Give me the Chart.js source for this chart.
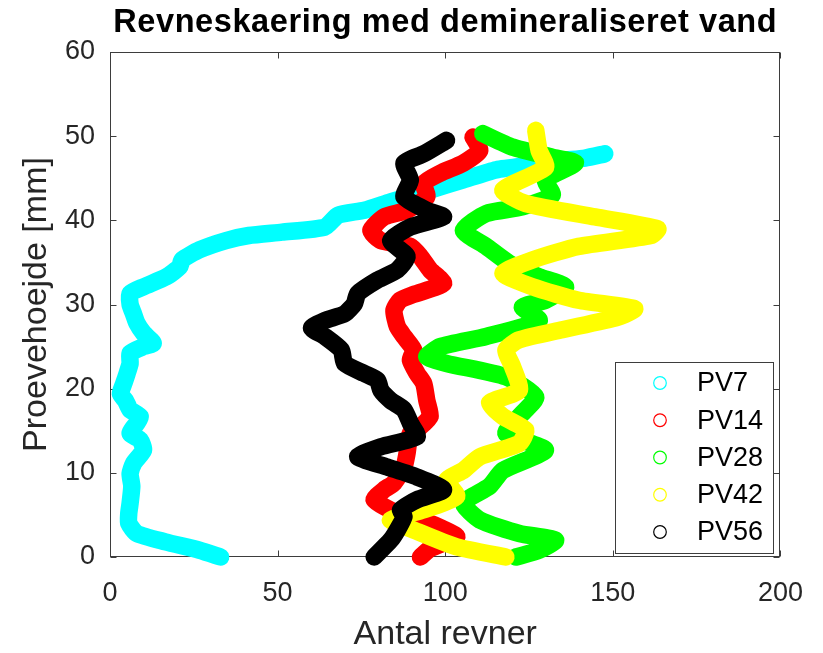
<!DOCTYPE html>
<html>
<head>
<meta charset="utf-8">
<script src="https://cdn.jsdelivr.net/npm/chart.js@4"></script>
<style>
html,body{margin:0;padding:0;background:#fff;}
#wrap{width:823px;height:653px;}
</style>
</head>
<body>
<div id="wrap"><canvas id="c" width="823" height="653"></canvas></div>
<script>
// ---------- texts ----------
const chartTitle = 'Revneskaering med demineraliseret vand';
const xLabel = 'Antal revner';
const yLabel = 'Proevehoejde [mm]';
const seriesNames = ['PV7', 'PV14', 'PV28', 'PV42', 'PV56'];
const xTicks = [0, 50, 100, 150, 200];
const yTicks = [0, 10, 20, 30, 40, 50, 60];

// ---------- data ----------
const pv7Revner = [33.0,26.7,16.5,8.0,5.6,5.6,6.0,6.5,6.0,7.0,10.0,9.0,6.0,8.0,9.0,6.0,4.6,3.1,4.1,5.1,6.0,6.0,10.0,12.9,10.0,8.0,7.0,6.0,6.0,10.0,16.9,20.8,21.5,26.7,34.6,41.4,51.3,64.1,68.0,75.9,83.7,95.5,105.4,115.2,127.0,134.9,141.7,147.6];
const pv7Hoejde = [0.0,0.8,1.8,2.8,4.0,5.2,6.4,8.4,9.9,11.1,12.7,13.9,14.7,15.9,16.7,17.5,18.6,19.4,20.6,21.8,23.0,24.2,25.0,25.4,26.6,27.8,28.9,30.0,31.3,32.1,33.3,34.5,35.3,36.5,37.6,38.2,38.6,39.2,40.6,41.2,42.2,43.6,44.8,46.0,46.6,47.1,47.4,47.9];

const pv14Revner = [92.6,95.5,103.4,99.0,95.5,85.7,78.8,81.8,84.7,87.7,88.6,89.6,92.6,95.5,94.5,93.6,91.6,89.6,90.6,87.7,85.7,84.7,86.5,90.6,99.5,95.5,92.6,89.6,80.8,77.8,81.8,88.6,94.5,93.6,98.5,105.4,110.3,108.3];
const pv14Hoejde = [0.0,1.0,2.4,3.4,4.0,5.2,6.8,8.0,8.8,10.7,12.3,14.7,15.5,16.7,18.6,20.6,21.8,23.4,24.6,26.2,27.4,29.3,30.5,31.2,32.5,34.1,35.7,36.9,37.6,38.8,40.4,41.2,42.8,44.4,45.6,46.8,48.3,49.9];

const pv28Revner = [121.1,128.0,132.9,122.1,110.3,105.4,113.2,117.2,129.9,118.1,122.1,127.0,118.1,100.4,94.5,98.5,112.2,128.0,123.0,129.9,135.9,128.0,119.1,112.2,105.4,112.2,123.0,131.9,129.9,138.8,131.9,120.1,111.2];
const pv28Hoejde = [0.0,0.8,2.0,2.8,4.4,6.4,8.4,10.3,12.7,14.7,16.7,19.0,21.4,23.0,23.8,25.0,26.2,28.1,29.7,30.5,32.1,33.3,34.9,36.9,38.8,40.8,41.6,43.0,44.8,46.8,47.5,48.7,50.3];

const pv42Revner = [118.1,103.4,90.6,83.7,93.6,103.4,100.4,105.4,110.3,122.1,124.0,117.2,113.2,122.1,120.1,118.1,122.1,134.9,151.6,156.5,139.8,126.0,117.2,126.0,139.8,161.4,163.4,144.7,124.0,117.2,129.9,128.0,127.0];
const pv42Hoejde = [0.0,1.2,3.2,4.4,5.6,7.2,9.1,10.3,11.9,13.5,15.1,16.7,18.3,19.8,22.6,24.6,25.8,27.0,28.5,29.5,30.5,32.1,33.7,35.3,36.9,38.2,39.0,40.4,42.0,43.6,46.3,48.3,50.7];

const pv56Revner = [78.8,83.7,85.7,87.7,86.7,91.6,99.5,91.6,82.7,73.9,80.8,91.6,89.6,87.7,83.7,80.8,79.8,75.9,70.0,69.0,64.1,60.1,64.1,70.0,72.9,73.9,79.8,85.7,88.6,83.7,89.6,99.5,94.5,87.7,89.6,87.7,93.6,100.4];
const pv56Hoejde = [0.0,2.0,3.2,4.8,5.6,6.8,8.0,9.5,10.7,11.9,13.1,14.3,15.9,17.5,18.6,19.8,21.0,21.8,23.0,24.6,26.2,27.2,28.1,28.9,30.1,31.3,32.9,34.1,35.7,37.6,39.2,40.4,41.2,42.8,44.8,46.8,47.9,49.5];

// ---------- styling ----------
const FONT = "'Liberation Sans', Arial, Helvetica, sans-serif";
const seriesColors = ['#00ffff', '#ff0000', '#00ff00', '#ffff00', '#000000'];
const frameColor = '#3d3d3d';
const textColor = '#262626';

const seriesX = [pv7Revner, pv14Revner, pv28Revner, pv42Revner, pv56Revner];
const seriesY = [pv7Hoejde, pv14Hoejde, pv28Hoejde, pv42Hoejde, pv56Hoejde];

const datasets = seriesNames.map((name, i) => ({
  label: name,
  data: seriesX[i].map((v, k) => ({x: v, y: seriesY[i][k]})),
  showLine: true,
  borderColor: seriesColors[i],
  backgroundColor: seriesColors[i],
  borderWidth: 17.5,
  pointRadius: 0,
  pointHoverRadius: 0,
  tension: 0.2,
  borderCapStyle: 'round',
  borderJoinStyle: 'round',
  clip: false,
  order: seriesNames.length - i
}));

// MATLAB-like box with inward ticks on all four sides
const framePlugin = {
  id: 'matlabFrame',
  beforeDatasetsDraw(chart) {
    const {ctx, chartArea: a, scales} = chart;
    const x = scales.x, y = scales.y;
    const L = Math.round(a.left) + 0.5, R = Math.round(a.right) - 0.5;
    const T = Math.round(a.top) + 0.5, B = Math.round(a.bottom) - 0.5;
    const tl = 6;
    ctx.save();
    ctx.strokeStyle = frameColor;
    ctx.lineWidth = 1;
    ctx.strokeRect(L, T, R - L, B - T);
    ctx.beginPath();
    x.ticks.forEach(t => {
      const px = Math.round(x.getPixelForValue(t.value)) + 0.5;
      ctx.moveTo(px, B); ctx.lineTo(px, B - tl);
      ctx.moveTo(px, T); ctx.lineTo(px, T + tl);
    });
    y.ticks.forEach(t => {
      const py = Math.round(y.getPixelForValue(t.value)) + 0.5;
      ctx.moveTo(L, py); ctx.lineTo(L + tl, py);
      ctx.moveTo(R, py); ctx.lineTo(R - tl, py);
    });
    ctx.stroke();
    ctx.restore();
  }
};

// boxed legend inside the axes, lower right
const legendPlugin = {
  id: 'boxLegend',
  afterDatasetsDraw(chart) {
    const {ctx, chartArea: a} = chart;
    const left = Math.round(a.right - 165), right = Math.round(a.right - 7);
    const top = Math.round(a.bottom - 195), bottom = Math.round(a.bottom - 4);
    ctx.save();
    ctx.fillStyle = '#ffffff';
    ctx.fillRect(left, top, right - left, bottom - top);
    ctx.strokeStyle = frameColor;
    ctx.lineWidth = 1;
    ctx.strokeRect(left + 0.5, top + 0.5, right - left, bottom - top);
    const step = 37.25;
    chart.data.datasets.forEach((ds, i) => {
      const cy = top + 21 + i * step;
      ctx.beginPath();
      ctx.arc(left + 45, cy, 6.3, 0, Math.PI * 2);
      ctx.strokeStyle = ds.borderColor;
      ctx.lineWidth = 1.2;
      ctx.stroke();
      ctx.fillStyle = '#000000';
      ctx.font = '27px ' + FONT;
      ctx.textAlign = 'left';
      ctx.textBaseline = 'middle';
      ctx.fillText(ds.label, left + 82, cy + 1);
    });
    ctx.restore();
  }
};

// centre the title over the axes and widen its letter spacing slightly
const titlePlugin = {
  id: 'titleCenter',
  afterLayout(chart) {
    const tb = chart.titleBlock;
    if (!tb) return;
    const c = (chart.chartArea.left + chart.chartArea.right) / 2;
    tb.left = c - 420; tb.right = c + 420; tb.width = 840;
    if (!tb._lsPatched) {
      const orig = tb.draw;
      tb.draw = function (...args) {
        const ctx = this.ctx;
        ctx.save();
        try { ctx.letterSpacing = '0.6px'; } catch (e) {}
        orig.apply(this, args);
        ctx.restore();
      };
      tb._lsPatched = true;
    }
  }
};

new Chart(document.getElementById('c'), {
  type: 'scatter',
  data: {datasets},
  plugins: [framePlugin, legendPlugin, titlePlugin],
  options: {
    responsive: false,
    animation: false,
    devicePixelRatio: 1,
    events: [],
    layout: {padding: {left: 0, right: 35, top: 0, bottom: 0}},
    plugins: {
      legend: {display: false},
      tooltip: {enabled: false},
      title: {
        display: true,
        text: chartTitle,
        color: '#000000',
        font: {family: FONT, size: 32.5, weight: 'bold', lineHeight: 1.2},
        padding: {top: 4, bottom: 9}
      }
    },
    scales: {
      x: {
        type: 'linear',
        position: 'bottom',
        min: 0, max: 200,
        afterBuildTicks: s => { s.ticks = xTicks.map(v => ({value: v})); },
        afterFit: s => { s.height = 96; },
        ticks: {font: {family: FONT, size: 27, lineHeight: 1.2}, color: textColor, padding: 20, maxRotation: 0, autoSkip: false},
        grid: {display: false, drawTicks: false},
        border: {display: false},
        title: {display: true, text: xLabel, color: textColor, font: {family: FONT, size: 34, lineHeight: 1}, padding: {top: 0, bottom: 1.5}}
      },
      y: {
        type: 'linear',
        position: 'left',
        min: 0, max: 60,
        afterBuildTicks: s => { s.ticks = yTicks.map(v => ({value: v})); },
        afterFit: s => { s.width = 110; },
        ticks: {font: {family: FONT, size: 27, lineHeight: 1.2}, color: textColor, padding: 15, autoSkip: false},
        grid: {display: false, drawTicks: false},
        border: {display: false},
        title: {display: true, text: yLabel, color: textColor, font: {family: FONT, size: 34, lineHeight: 1}, padding: {top: 20, bottom: 0}}
      }
    }
  }
});
</script>
</body>
</html>
